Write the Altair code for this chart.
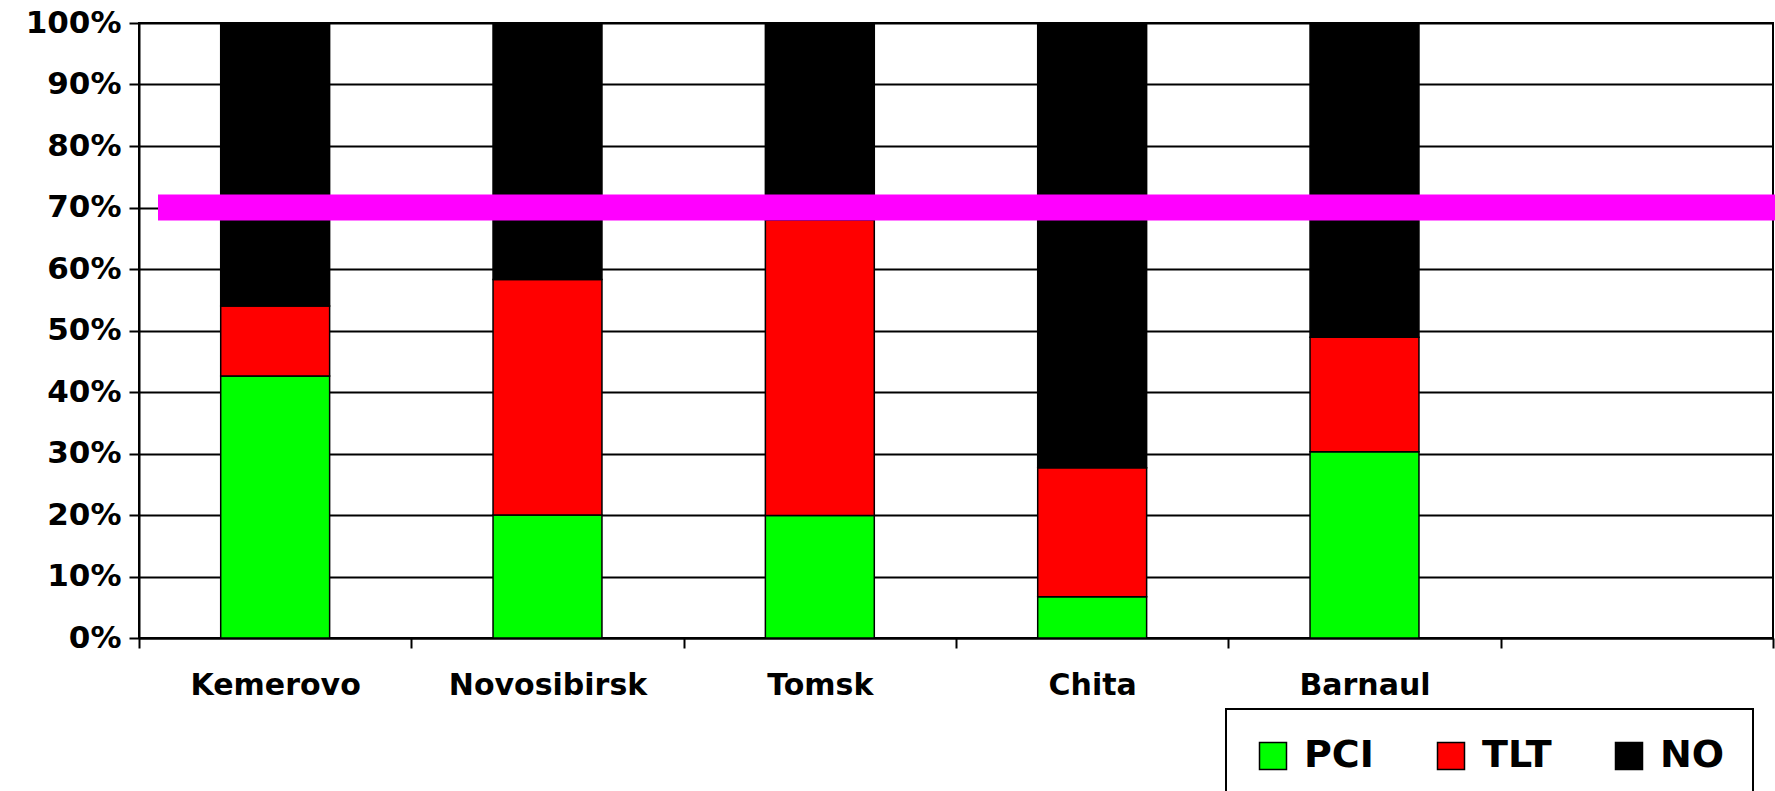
import altair as alt
import pandas as pd

# Share of patients by treatment strategy, per city (percent)
cities = ["Kemerovo", "Novosibirsk", "Tomsk", "Chita", "Barnaul"]
slots = cities + [" "]          # one empty slot on the right of the axis
groups = ["PCI", "TLT", "NO"]
colors = ["#00ff00", "#ff0000", "#000000"]
pci = [42.6, 20.0, 19.9, 6.7, 30.3]
tlt = [11.4, 38.3, 48.1, 21.0, 18.6]
no = [46.0, 41.7, 32.0, 72.3, 51.1]
target = [70]
y_ticks = list(range(0, 101, 10))

rows = []
for i, city in enumerate(cities):
    for k, (g, vals) in enumerate(zip(groups, [pci, tlt, no])):
        rows.append({"city": city, "group": g, "share": vals[i], "order": k})
df = pd.DataFrame(rows)

W, H = 1634, 615
FONT = "DejaVu Sans"

bars = alt.Chart(df).mark_bar(
    width=alt.RelativeBandSize(0.4), stroke="black", strokeWidth=1.5
).encode(
    x=alt.X(
        "city:N",
        sort=slots,
        scale=alt.Scale(domain=slots, paddingInner=0, paddingOuter=0),
        axis=alt.Axis(
            title=None, labelAngle=0, tickBand="extent", grid=False,
            labelFontSize=30, labelPadding=22, labelLimit=400,
        ),
    ),
    y=alt.Y(
        "share:Q",
        stack="zero",
        scale=alt.Scale(domain=[0, 100], nice=False),
        axis=alt.Axis(
            title=None, values=y_ticks, labelExpr="datum.value + '%'",
            labelFontSize=31, labelPadding=8, grid=True,
        ),
    ),
    color=alt.Color(
        "group:N",
        scale=alt.Scale(domain=groups, range=colors),
        legend=alt.Legend(
            title=None, orient="none", legendX=1087, legendY=686,
            direction="horizontal", symbolType="square", symbolSize=729,
            symbolStrokeColor="black", symbolStrokeWidth=1.5,
            labelFont=FONT, labelFontSize=38, labelFontWeight="bold",
            labelColor="black", labelOffset=12, columnPadding=58,
            padding=28, strokeColor="black",
        ),
    ),
    order=alt.Order("order:Q", sort="ascending"),
)

goal = alt.Chart(pd.DataFrame({"y": target})).mark_rule(
    color="#ff00ff", strokeWidth=26
).encode(
    y=alt.Y("y:Q"),
    x=alt.value(19),
    x2=alt.value(W + 2),
)

chart = alt.layer(bars, goal).properties(
    width=W,
    height=H,
    autosize=alt.AutoSizeParams(type="none"),
    padding={"left": 139, "top": 23, "right": 2, "bottom": 153},
    background="white",
).configure_view(
    stroke="black", strokeWidth=2
).configure_axis(
    domainColor="black", domainWidth=2,
    tickColor="black", tickWidth=2, tickSize=10,
    gridColor="black", gridWidth=2,
    labelFont=FONT, labelFontWeight="bold", labelColor="black",
).configure_legend(
    strokeWidth=2,
)

chart.save("out.html", embed_options={"renderer": "svg", "actions": False})
